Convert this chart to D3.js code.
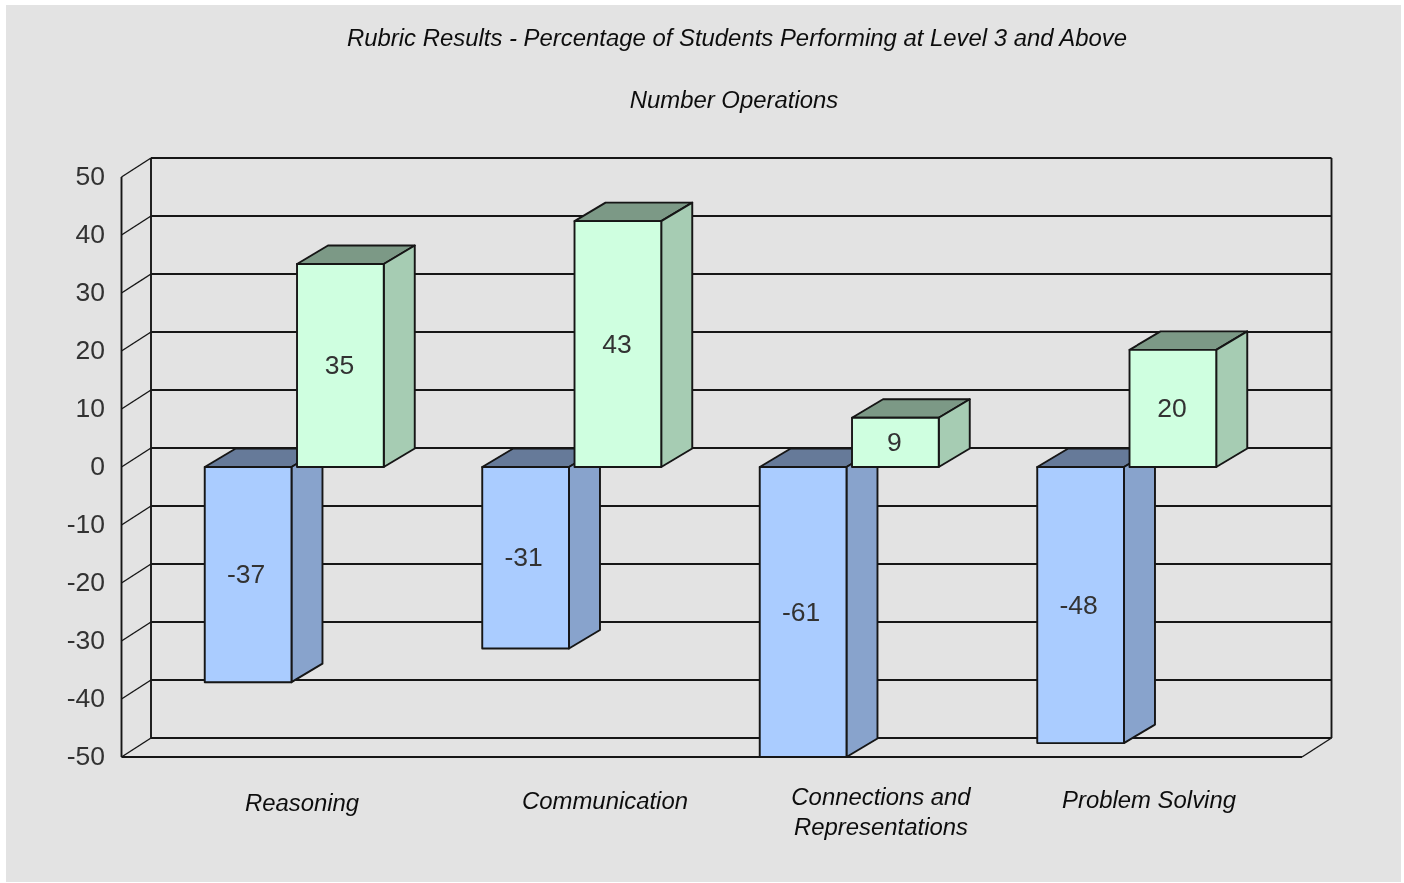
<!DOCTYPE html>
<html><head><meta charset="utf-8">
<script src="https://cdn.jsdelivr.net/npm/d3@7"></script>
<style>
html,body{margin:0;padding:0;background:#fff}
svg{display:block}
text{font-family:"Liberation Sans",Arial,sans-serif}
</style></head><body><svg id="c" width="1404" height="883"></svg>
<script>
const titleLines = ["Rubric Results - Percentage of Students Performing at Level 3 and Above", "Number Operations"];
const categories = ["Reasoning", "Communication", "Connections and\nRepresentations", "Problem Solving"];
const seriesNames = ["A", "B"];
const seriesA = [-37.1, -31.3, -61, -47.6];
const seriesB = [35, 42.4, 8.5, 20.2];
const labelsA = ["-37", "-31", "-61", "-48"];
const labelsB = ["35", "43", "9", "20"];
const yTicks = [50, 40, 30, 20, 10, 0, -10, -20, -30, -40, -50];

const svg = d3.select("#c");
const L = {px:6, py:5, pw:1395, ph:877, x0:121.5, x1:1302, top:177, bottom:757, dx:29.5, dy:19, barDx:31, barDy:18.5};
const ink = "#141414", sw = 1.9;
const shade = {
  A:{front:"#aaccff", side:"#88a3cc", top:"#667a99"},
  B:{front:"#cfffe0", side:"#a6ccb3", top:"#7c9986"}
};
const catLabelPos = [{x:302,y:[811]},{x:605,y:[809]},{x:881,y:[805,835]},{x:1149,y:[808]}];

const defs = svg.append("defs");
defs.append("filter").attr("id","soft").attr("x",0).attr("y",0).attr("width","100%").attr("height","100%")
  .attr("filterUnits","userSpaceOnUse").attr("x",0).attr("y",0).attr("width",1404).attr("height",883)
  .append("feGaussianBlur").attr("stdDeviation",0.4);

svg.append("rect").attr("x",L.px).attr("y",L.py).attr("width",L.pw).attr("height",L.ph).attr("fill","#e3e3e3");
const root = svg.append("g").attr("filter","url(#soft)");

const y = d3.scaleLinear().domain([-50,50]).range([L.bottom,L.top]).clamp(true);
const x = d3.scaleBand().domain(categories).range([154.5,1264.5]);
const xs = d3.scaleBand().domain(seriesNames).range([-88.5,90.5]).paddingInner(0.06);

// titles
root.selectAll("text.title").data(titleLines).join("text").attr("class","title")
  .attr("x",(d,i)=>i?734:737).attr("y",(d,i)=>i?108:46)
  .attr("text-anchor","middle").attr("font-style","italic").attr("font-size",23.9).attr("fill","#111").text(d=>d);

// walls and grid
const g = root.append("g").attr("fill","none").attr("stroke",ink).attr("stroke-width",sw);
g.selectAll("line.grid").data(yTicks).join("line").attr("class","grid")
  .attr("x1",L.x0+L.dx).attr("x2",L.x1+L.dx).attr("y1",d=>y(d)-L.dy).attr("y2",d=>y(d)-L.dy);
g.selectAll("line.diag").data(yTicks).join("line").attr("class","diag")
  .attr("x1",L.x0).attr("x2",L.x0+L.dx).attr("y1",d=>y(d)).attr("y2",d=>y(d)-L.dy).attr("stroke-width",1.4);
g.append("line").attr("x1",L.x0).attr("x2",L.x0).attr("y1",L.top).attr("y2",L.bottom);
g.append("line").attr("x1",L.x0+L.dx).attr("x2",L.x0+L.dx).attr("y1",L.top-L.dy).attr("y2",L.bottom-L.dy);
g.append("line").attr("x1",L.x1+L.dx).attr("x2",L.x1+L.dx).attr("y1",L.top-L.dy).attr("y2",L.bottom-L.dy);
g.append("line").attr("x1",L.x0).attr("x2",L.x1).attr("y1",L.bottom).attr("y2",L.bottom);
g.append("line").attr("x1",L.x1).attr("x2",L.x1+L.dx).attr("y1",L.bottom).attr("y2",L.bottom-L.dy).attr("stroke-width",1.4);

// y axis
const axis = d3.axisLeft(y).tickValues(yTicks).tickSize(0).tickPadding(0).tickFormat(d=>String(d));
const ag = root.append("g").attr("transform","translate(105,0)").call(axis);
ag.select(".domain").remove();
ag.selectAll("text").attr("font-size",26.5).attr("fill","#333").attr("font-family",'"Liberation Sans",Arial,sans-serif').attr("dy","0.3em");

// bars
const rows = categories.flatMap((c,i)=>[
  {c,s:"A",v:seriesA[i],label:labelsA[i]},
  {c,s:"B",v:seriesB[i],label:labelsB[i]}
]);
root.selectAll("g.bar").data(rows).join("g").attr("class","bar").each(function(d){
  const sel = d3.select(this);
  const l = x(d.c)+x.bandwidth()/2+xs(d.s), r = l+xs.bandwidth();
  const t = Math.min(y(d.v),y(0)), b = Math.max(y(d.v),y(0));
  const dx = L.barDx, dy = L.barDy, col = shade[d.s];
  const poly = (pts,fill)=>sel.append("polygon").attr("points",pts.map(p=>p.join(",")).join(" "))
    .attr("fill",fill).attr("stroke",ink).attr("stroke-width",sw).attr("stroke-linejoin","round");
  poly([[l,t],[l+dx,t-dy],[r+dx,t-dy],[r,t]],col.top);
  poly([[r,t],[r+dx,t-dy],[r+dx,b-dy],[r,b]],col.side);
  poly([[l,t],[r,t],[r,b],[l,b]],col.front);
  sel.append("text").attr("x",(l+r)/2-(d.s==="A"?2:1)).attr("y",(t+b)/2-1).attr("dy","0.36em")
    .attr("text-anchor","middle").attr("font-size",26.5).attr("fill","#333").text(d.label);
});

// category labels
categories.forEach((c,i)=>{
  const p = catLabelPos[i];
  c.split("\n").forEach((line,j)=>{
    root.append("text").attr("class","cat").attr("x",p.x).attr("y",p.y[j]).attr("text-anchor","middle")
      .attr("font-style","italic").attr("font-size",23.9).attr("fill","#111").text(line);
  });
});
</script></body></html>
